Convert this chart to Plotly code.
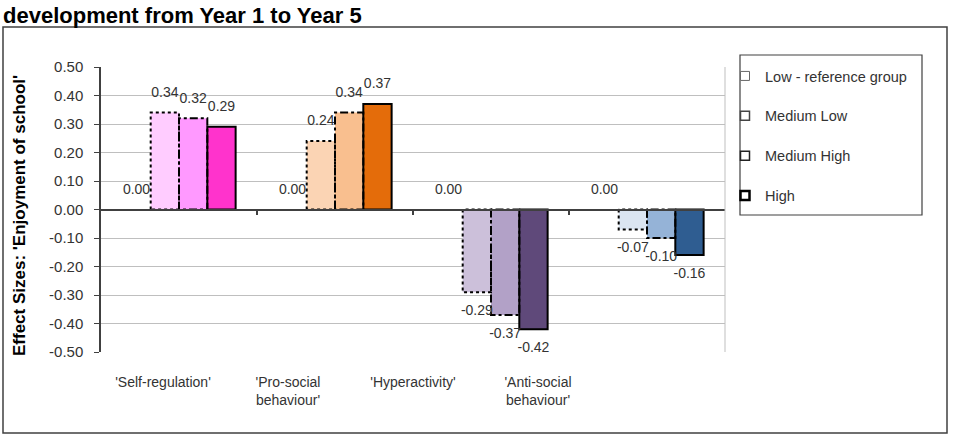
import plotly.graph_objects as go

# ---------------- data ----------------
categories = ["'Self-regulation'", "'Pro-social<br>behaviour'", "'Hyperactivity'", "'Anti-social<br>behaviour'"]
series_names = ["Low - reference group", "Medium Low", "Medium High", "High"]
low = [0.00, 0.00, 0.00, 0.00]
medium_low = [0.34, 0.24, -0.29, -0.07]
medium_high = [0.32, 0.34, -0.37, -0.10]
high = [0.29, 0.37, -0.42, -0.16]
y_tick_values = [0.50, 0.40, 0.30, 0.20, 0.10, 0.00, -0.10, -0.20, -0.30, -0.40, -0.50]
title_text = "development from Year 1 to Year 5"
y_title_text = "Effect Sizes: 'Enjoyment of school'"

# ---------------- styles ----------------
low_colors = ["#FFFFFF", "#FFFFFF", "#FFFFFF", "#FFFFFF"]
ml_colors = ["#FFCCFF", "#FBD4B4", "#CCC0DA", "#DBE5F1"]
mh_colors = ["#FF99FF", "#F9BF8F", "#B2A1C7", "#95B3D7"]
high_colors = ["#FF33CC", "#E46C0A", "#5F497A", "#2F5D91"]
outline_dash = ["solid", "dot", "8px,3px,3px,3px", "solid"]
outline_width = [0, 2, 2, 2]
FONT = "Liberation Sans, Arial, sans-serif"

series_values = [low, medium_low, medium_high, high]
series_colors = [low_colors, ml_colors, mh_colors, high_colors]

BARGAP = 0.274
n_series = len(series_values)
bar_w = (1 - BARGAP) / n_series
xs = list(range(len(categories)))

fig = go.Figure()

# filled bars
for k, (vals, cols) in enumerate(zip(series_values, series_colors)):
    fig.add_trace(go.Bar(
        x=xs, y=vals, name=series_names[k],
        marker=dict(color=cols, line=dict(width=0)),
        showlegend=False, hoverinfo="skip",
    ))

# dashed / dotted outlines derived from the same data and bar geometry
for k, vals in enumerate(series_values):
    if outline_width[k] == 0:
        continue
    ox, oy = [], []
    for i, v in zip(xs, vals):
        c = i + (k - (n_series - 1) / 2) * bar_w
        l, r = c - bar_w / 2, c + bar_w / 2
        ox += [l, l, r, r, l, None]
        oy += [0, v, v, 0, 0, None]
    fig.add_trace(go.Scatter(
        x=ox, y=oy, mode="lines",
        line=dict(color="#000000", width=outline_width[k], dash=outline_dash[k]),
        showlegend=False, hoverinfo="skip",
    ))

# data labels
for k, vals in enumerate(series_values):
    lx = [i + (k - (n_series - 1) / 2) * bar_w for i in xs]
    fig.add_trace(go.Scatter(
        x=lx, y=vals, mode="markers+text",
        text=[f"{v:.2f}" for v in vals],
        textposition=["top center" if v >= 0 else "bottom center" for v in vals],
        textfont=dict(family=FONT, size=14, color="#333333"),
        marker=dict(size=18, opacity=0),
        showlegend=False, hoverinfo="skip", cliponaxis=False,
    ))

# legend entries
leg_line_w = [1, 1.5, 1.5, 2.5]
leg_line_c = ["#666666", "#444444", "#222222", "#000000"]
for k, nm in enumerate(series_names):
    fig.add_trace(go.Scatter(
        x=[None], y=[None], mode="markers", name=nm,
        marker=dict(symbol="square", size=9, color="#FFFFFF",
                    line=dict(color=leg_line_c[k], width=leg_line_w[k])),
        legendgroup=nm,
    ))

# dummy trace for category label axis
fig.add_trace(go.Scatter(x=[None], y=[None], xaxis="x2", showlegend=False, hoverinfo="skip"))

# plot area in pixels: x 101..725, y 67..352
W, H = 953, 436
L, R, T, B = 101, 725, 67, 352
pw, ph = R - L, B - T

def px(xp):
    return (xp - L) / pw

def py(yp):
    return (B - yp) / ph

fig.update_layout(
    width=W, height=H,
    margin=dict(l=L, r=W - R, t=T, b=H - B),
    paper_bgcolor="#FFFFFF", plot_bgcolor="#FFFFFF",
    barmode="group", bargap=BARGAP, bargroupgap=0,
    font=dict(family=FONT, color="#333333"),
    title=dict(text=f"<b>{title_text}</b>", x=3 / W, xanchor="left", xref="container",
               y=1 - 15 / H, yanchor="middle", yref="container",
               font=dict(family=FONT, size=22, color="#000000")),
    xaxis=dict(range=[-0.5, len(categories) - 0.5], anchor="free", position=0.5,
               showline=True, linecolor="#404040", linewidth=1.5,
               tickvals=[i + 0.5 for i in xs[:-1]], ticks="outside", ticklen=5,
               tickcolor="#404040", tickwidth=1.5, showticklabels=False,
               showgrid=False, zeroline=False),
    xaxis2=dict(overlaying="x", side="bottom", anchor="y",
                range=[(L - 163) / 125, (R - 163) / 125],
                tickvals=xs, ticktext=categories, ticks="",
                tickfont=dict(family=FONT, size=14, color="#333333"),
                ticklabelstandoff=20,
                showgrid=False, zeroline=False, showline=False),
    yaxis=dict(range=[-0.5, 0.5], tickvals=y_tick_values,
               ticktext=[f"{v:.2f}" for v in y_tick_values],
               tickfont=dict(family=FONT, size=15, color="#333333"),
               ticks="outside", ticklen=5, tickcolor="#404040", ticklabelstandoff=8,
               showline=True, linecolor="#404040", linewidth=1.5,
               showgrid=True, gridcolor="#BFBFBF", gridwidth=1, zeroline=False),
    legend=dict(x=px(725), xanchor="left", y=py(60), yanchor="top",
                font=dict(family=FONT, size=14.5, color="#333333"),
                bgcolor="rgba(0,0,0,0)", borderwidth=0, tracegroupgap=18,
                itemwidth=30),
    annotations=[dict(text=f"<b>{y_title_text}</b>", textangle=-90,
                      xref="paper", yref="paper", x=px(19), y=py(216),
                      xanchor="center", yanchor="middle", showarrow=False,
                      font=dict(family=FONT, size=17, color="#000000"))],
    shapes=[
        dict(type="rect", xref="paper", yref="paper", x0=px(3), x1=px(947), y0=py(433), y1=py(27),
             line=dict(color="#404040", width=1.5), layer="below"),
        dict(type="rect", xref="paper", yref="paper", x0=px(740), x1=px(922), y0=py(215), y1=py(55),
             line=dict(color="#404040", width=1.2)),
        dict(type="line", xref="paper", yref="paper", x0=1, x1=1, y0=0, y1=1,
             line=dict(color="#BFBFBF", width=1)),
    ],
)

fig.write_html("out.html")
